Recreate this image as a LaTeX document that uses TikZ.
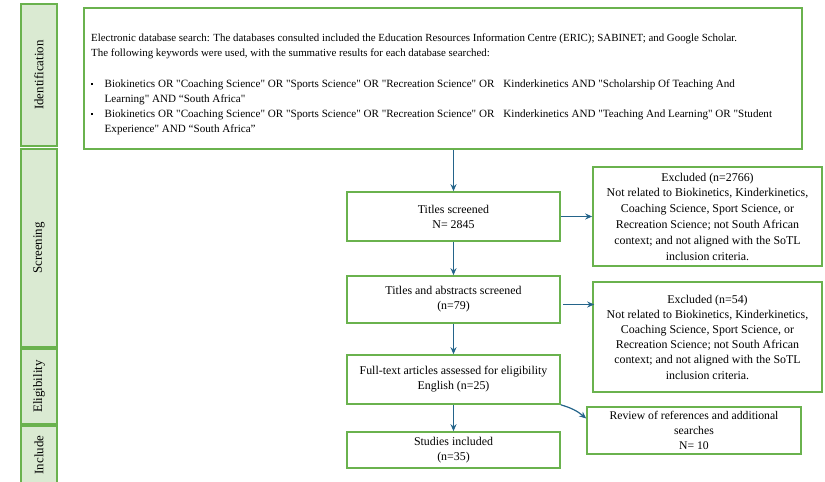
\documentclass[tikz,border=0pt]{standalone}
\usepackage{fontspec}
\setmainfont{Liberation Serif}[Ligatures=TeXOff]
\usetikzlibrary{arrows.meta,calc}
\definecolor{gbord}{RGB}{106,178,78}
\definecolor{gfill}{RGB}{218,234,210}
\definecolor{arr}{RGB}{36,100,138}
\tikzset{
  flowbox/.style={draw=gbord, line width=1.6pt, fill=white, align=center, inner sep=0pt,
    font=\fontsize{11.9}{15}\selectfont},
  sidebox/.style={draw=gbord, line width=1.6pt, fill=gfill, minimum width=36pt, inner sep=0pt},
  sidelabel/.style={rotate=90, font=\fontsize{12.9}{14}\selectfont},
  flowarrow/.style={draw=arr, line width=1.2pt, -{Stealth[length=7pt,width=6pt]}}
}
\newcommand{\bigsp}{\hspace{9pt}}
\begin{document}
\begin{tikzpicture}[x=1pt,y=-1pt]
\useasboundingbox (0,0) rectangle (825,482);
% side phase boxes
\node[sidebox, minimum height=142pt] (sid) at (39,75) {};
\node[sidelabel] (sidl) at (sid) {Identification};
\node[sidebox, minimum height=198pt] (sscr) at (39,248) {};
\node[sidelabel] (sscrl) at (sscr) {Screening};
\node[sidebox, minimum height=75pt] (selig) at (39,386.5) {};
\node[sidelabel] (seligl) at (selig) {Eligibility};
\node[sidebox, minimum height=58pt] (sinc) at (39,455) {};
\node[sidelabel] (sincl) at (39,455) {Include};
% search box
\node[flowbox, minimum width=718pt, minimum height=141pt] (search) at (443,78.5) {};
\node[anchor=north west, inner sep=0pt, font=\fontsize{10.9}{15}\selectfont] (searchtext) at (91,31)
{\begin{tabular}{@{}p{8pt}@{\hspace{5.5pt}}l@{}}
\multicolumn{2}{@{}l@{}}{Electronic database search: The databases consulted included the Education Resources Information Centre (ERIC); SABINET; and Google Scholar.}\\
\multicolumn{2}{@{}l@{}}{The following keywords were used, with the summative results for each database searched:}\\[16pt]
\raisebox{2.5pt}{\rule{2pt}{2pt}} & \fontsize{11.1}{15}\selectfont Biokinetics OR "Coaching Science" OR "Sports Science" OR "Recreation Science" OR\bigsp Kinderkinetics AND "Scholarship Of Teaching And\\
 & \fontsize{11.1}{15}\selectfont Learning" AND “South Africa"\\
\raisebox{2.5pt}{\rule{2pt}{2pt}} & \fontsize{11.1}{15}\selectfont Biokinetics OR "Coaching Science" OR "Sports Science" OR "Recreation Science" OR\bigsp Kinderkinetics AND "Teaching And Learning" OR "Student\\
 & \fontsize{11.1}{15}\selectfont Experience" AND “South Africa”
\end{tabular}};
% flow boxes
\node[flowbox, minimum width=213pt, minimum height=49pt] (t1) at (453.5,216.5) {Titles screened\\N= 2845};
\node[flowbox, minimum width=213pt, minimum height=47pt] (t2) at (453.5,299.5) {Titles and abstracts screened\\(n=79)};
\node[flowbox, minimum width=213pt, minimum height=49pt] (t3) at (453.5,379.5) {Full-text articles assessed for eligibility\\English (n=25)};
\node[flowbox, minimum width=213pt, minimum height=36pt] (t4) at (453.5,450) {Studies included\\(n=35)};
\node[flowbox, minimum width=229pt, minimum height=99pt, font=\fontsize{11.9}{15.8}\selectfont] (ex1) at (707.5,216.5)
{Excluded (n=2766)\\Not related to Biokinetics, Kinderkinetics,\\Coaching Science, Sport Science, or\\Recreation Science; not South African\\context; and not aligned with the SoTL\\inclusion criteria.};
\node[flowbox, minimum width=229pt, minimum height=110pt, font=\fontsize{11.9}{15.2}\selectfont] (ex2) at (707.5,337)
{Excluded (n=54)\\Not related to Biokinetics, Kinderkinetics,\\Coaching Science, Sport Science, or\\Recreation Science; not South African\\context; and not aligned with the SoTL\\inclusion criteria.};
\node[flowbox, minimum width=214pt, minimum height=47pt, font=\fontsize{11.7}{15}\selectfont] (rev) at (694,430.5)
{Review of references and additional\\searches\\N= 10};
% arrows
\draw[flowarrow] (search.south -| t1.north) -- (t1.north);
\draw[flowarrow] (t1.east) -- (ex1.west);
\draw[flowarrow] (t1.south) -- (t2.north);
\draw[flowarrow] ([shift={(2,5)}]t2.east) -- ([shift={(2,5)}]t2.east -| ex2.west);
\draw[flowarrow] (t2.south) -- (t3.north);
\draw[flowarrow] (t3.south) -- (t4.north);
\draw[flowarrow] (t3.south east) to[bend left=12] ([shift={(0,-12)}]rev.west);
\end{tikzpicture}
\end{document}
